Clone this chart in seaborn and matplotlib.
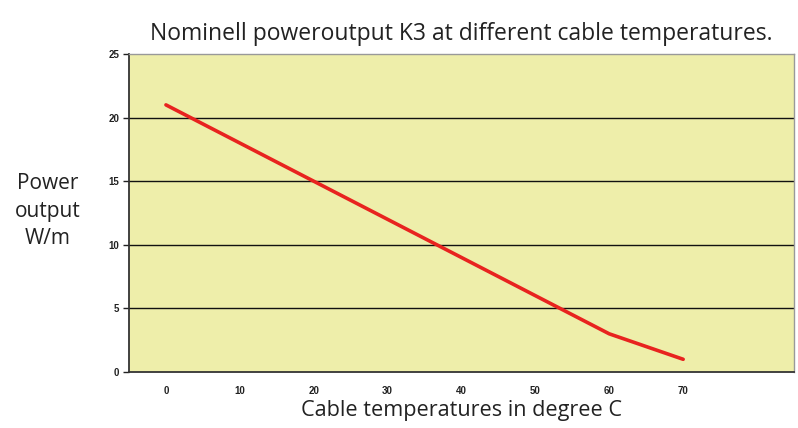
import matplotlib
matplotlib.use("Agg")
import matplotlib.pyplot as plt
import seaborn as sns
import pandas as pd

# Data
temperatures = [0, 10, 20, 30, 40, 50, 60, 70]
power_output = [21, 18, 15, 12, 9, 6, 3, 1]
y_ticks = [0, 5, 10, 15, 20, 25]

df = pd.DataFrame({"temp": temperatures, "power": power_output})

sns.set_style("white")
plt.rcParams["font.family"] = ["Open Sans", "DejaVu Sans"]

fig = plt.figure(figsize=(7.98, 4.28), dpi=100)
ax = fig.add_axes([129 / 798, 1 - 372 / 428, (794 - 129) / 798, (372 - 54) / 428])
ax.set_facecolor("#eeeeaa")

for y in y_ticks[1:-1]:
    ax.axhline(y, color="#111111", lw=1.0, zorder=1)

sns.lineplot(data=df, x="temp", y="power", color="#e8231f", lw=2.6, ax=ax, zorder=3)

ax.set_xlim(-5, 85)
ax.set_ylim(0, 25)
ax.set_xticks(temperatures)
ax.set_yticks(y_ticks)
ax.set_xticklabels([str(t) for t in temperatures], family="Liberation Sans",
                   fontweight="bold", fontsize=7, color="#222222")
ax.set_yticklabels([str(t) for t in y_ticks], family="Liberation Sans",
                   fontweight="bold", fontsize=7, color="#222222")
ax.tick_params(axis="x", length=0, pad=10)
ax.tick_params(axis="y", length=4, width=1, color="#222222", pad=3, left=True)

for side in ["left", "bottom"]:
    ax.spines[side].set_color("#333333")
    ax.spines[side].set_linewidth(1.3)
for side in ["top", "right"]:
    ax.spines[side].set_color("#999999")
    ax.spines[side].set_linewidth(1.0)

ax.set_xlabel("Cable temperatures in degree C", fontsize=15.6, color="#222222", labelpad=3)
ax.set_ylabel("Power\noutput\nW/m", fontsize=15, color="#222222", rotation=0,
              ha="center", va="center", linespacing=1.4)
ax.yaxis.set_label_coords(-0.122, 0.506)
ax.set_title("Nominell poweroutput K3 at different cable temperatures.",
             fontsize=16.5, color="#222222", pad=10)

fig.savefig("out.png", dpi=100)
